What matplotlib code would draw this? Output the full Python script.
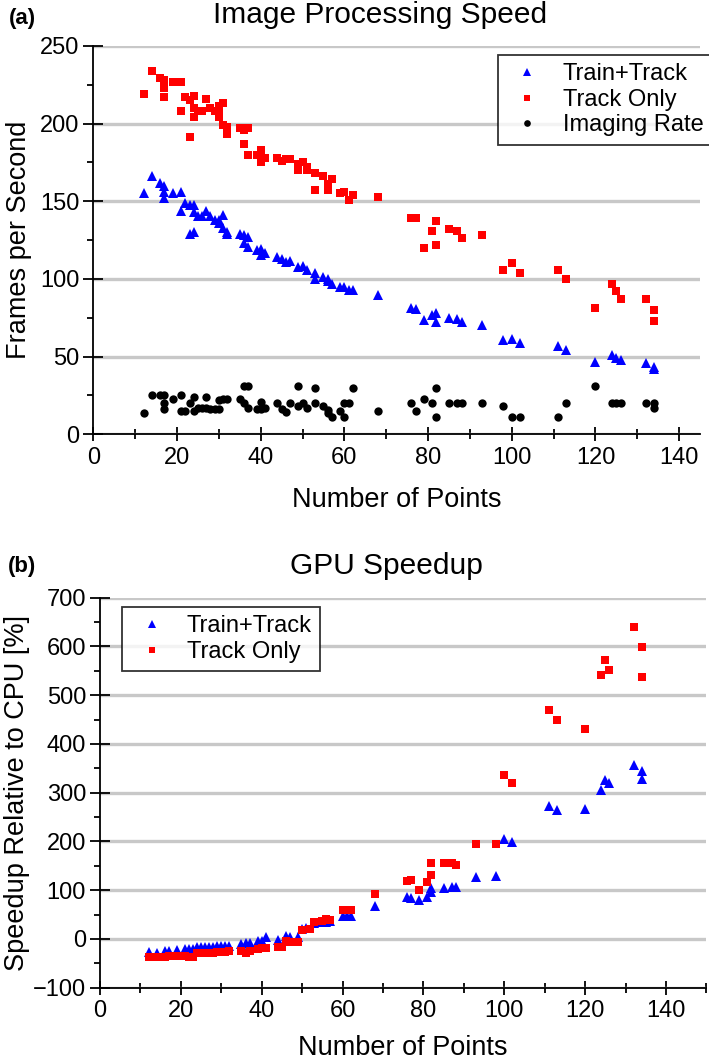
import matplotlib
matplotlib.use("Agg")
import matplotlib.pyplot as plt
from matplotlib.ticker import MultipleLocator

plt.rcParams['font.family'] = ['Liberation Sans', 'DejaVu Sans']

# ---- panel (a): image processing speed (frames per second) ----
track_x = [12, 14, 16, 17, 17, 17, 19, 21, 21, 22, 23, 23, 24, 24, 24, 25, 26, 27, 28, 29,
           30, 30, 30, 31, 31, 32, 32, 35, 36, 36, 37, 37, 39, 40, 40, 41, 44, 45, 46, 47,
           49, 49, 50, 51, 51, 53, 53, 55, 56, 56, 57, 59, 60, 61, 62, 68, 76, 77, 79, 81,
           82, 82, 85, 87, 88, 93, 98, 100, 102, 111, 113, 120, 124, 125, 126, 132, 134, 134]
track_fps = [219, 234, 229, 228, 223, 217, 227, 227, 208, 217, 215, 191, 218, 210, 204, 208, 208, 216, 210, 208,
             211, 206, 204, 213, 199, 198, 193, 197, 196, 187, 197, 180, 180, 183, 175, 178, 178, 176, 177, 177,
             174, 170, 175, 172, 170, 168, 157, 166, 161, 157, 164, 155, 156, 151, 154, 153, 139, 139, 120, 131,
             137, 122, 132, 131, 126, 128, 106, 110, 104, 106, 100, 81, 97, 92, 87, 87, 80, 73]

train_x = [12, 14, 16, 17, 17, 17, 19, 21, 21, 22, 23, 23, 24, 24, 24, 25, 26, 27, 28, 29,
           30, 30, 31, 31, 32, 32, 35, 36, 36, 37, 37, 39, 40, 40, 41, 44, 45, 46, 47, 49,
           50, 51, 53, 53, 55, 56, 56, 57, 59, 60, 61, 62, 68, 76, 77, 79, 81, 82, 82, 85,
           87, 88, 93, 98, 100, 102, 111, 113, 120, 124, 125, 126, 132, 134, 134]
train_fps = [155.5, 166, 162, 160, 156, 152, 155.5, 156, 144, 149, 147.5, 129, 147.5, 143, 130.5, 140.5, 140.5, 144, 140.5, 138,
             136, 138, 141, 132.5, 130, 129, 129, 128.5, 123, 127, 120.5, 118.5, 119, 115.5, 116.5, 114, 112.5, 111, 111.5, 107.5,
             108.5, 106, 104, 100, 101.5, 100, 98.5, 97, 95, 95, 93, 93, 89.5, 81.5, 80.5, 73.5, 76.5, 78, 72, 75,
             74, 72.5, 70.5, 60.5, 61.5, 58.5, 57, 54, 46.5, 51, 49, 47.5, 46, 43.5, 42]

imaging_x = [12, 14, 16, 17, 17, 17, 19, 21, 21, 22, 23, 24, 24, 25, 26, 27, 27, 28, 29, 30,
             30, 31, 32, 35, 36, 37, 36, 37, 39, 40, 40, 41, 44, 45, 46, 47, 49, 49, 50, 51,
             53, 53, 55, 56, 57, 56, 59, 60, 60, 61, 62, 68, 76, 77, 79, 81, 82, 82, 85, 87,
             88, 93, 98, 100, 102, 111, 113, 120, 124, 125, 126, 132, 134, 134]
imaging_fps = [14, 25, 25, 25, 20, 16, 23, 25, 15, 15, 20, 24, 15, 17, 17, 24, 17, 16, 16, 16,
               22, 23, 23, 23, 31, 31, 20, 17, 16, 16, 21, 17, 20, 16, 14.5, 20, 31, 18, 20, 17,
               30, 20, 18, 15.5, 11, 13.5, 15, 11, 20, 20, 30, 15, 20, 15, 23, 20, 30, 11, 20, 20,
               20, 20, 18, 11, 11, 11, 20, 31, 20, 20, 20, 20, 20, 17]

# ---- panel (b): GPU speedup relative to CPU [%] ----
train_sp_x = [12, 14, 16, 17, 19, 21, 22, 23, 24, 25, 26, 27, 28, 29, 30, 31, 32, 35, 36, 37,
              39, 40, 41, 44, 46, 47, 49, 50, 51, 53, 55, 56, 57, 60, 61, 62, 68, 76, 77, 79,
              81, 82, 82, 85, 87, 88, 93, 98, 100, 102, 111, 113, 120, 124, 125, 126, 132, 134, 134]
train_sp = [-27, -29, -24, -24, -22, -21, -21, -20, -17, -17, -16, -16, -16, -15, -15, -15, -14, -10, -9, -9,
            -5, -4, 4, -2, 7, 4, 4, 20, 22, 33, 34, 35, 36, 48, 48, 47, 68, 86, 85, 79,
            87, 96, 105, 105, 106, 106, 127, 130, 205, 198, 272, 265, 267, 306, 327, 320, 356, 344, 328]

track_sp_x = [12, 14, 16, 17, 19, 21, 22, 23, 24, 25, 26, 27, 28, 29, 30, 31, 32, 35, 36, 37,
              39, 40, 41, 44, 45, 46, 47, 49, 50, 52, 53, 55, 56, 57, 60, 61, 62, 68, 76, 77,
              79, 81, 82, 82, 85, 87, 88, 93, 98, 100, 102, 111, 113, 120, 124, 125, 126, 132, 134, 134]
track_sp = [-37, -37, -36, -35, -34, -34, -36, -37, -29, -29, -29, -28, -28, -27, -27, -26, -25, -25, -28, -25,
            -20, -18, -18, -16, -16, -4, -6, -6, 19, 21, 34, 36, 40, 38, 59, 59, 60, 92, 119, 120,
            100, 117, 132, 156, 155, 156, 151, 195, 195, 336, 319, 470, 450, 431, 542, 573, 552, 639, 598, 537]

W, H = 709, 1062
fig = plt.figure(figsize=(W / 100, H / 100), dpi=100)

def style_axes(ax, xmax, ymin, ymax, ymajor, yminor):
    ax.set_xlim(0, xmax)
    ax.set_ylim(ymin, ymax)
    for s in ['top', 'right']:
        ax.spines[s].set_visible(False)
    for s in ['left', 'bottom']:
        ax.spines[s].set_linewidth(1.3)
    ax.xaxis.set_major_locator(MultipleLocator(20))
    ax.xaxis.set_minor_locator(MultipleLocator(10))
    ax.yaxis.set_major_locator(MultipleLocator(ymajor))
    ax.yaxis.set_minor_locator(MultipleLocator(yminor))
    ax.tick_params(axis='x', which='major', direction='inout', length=10, width=1.3, labelsize=17, pad=4)
    ax.tick_params(axis='x', which='minor', direction='inout', length=7, width=1.3)
    ax.tick_params(axis='y', which='major', direction='inout', length=14, width=1.3, labelsize=17, pad=3)
    ax.tick_params(axis='y', which='minor', direction='out', length=4, width=1.3)
    ax.yaxis.grid(True, which='major', color='#c8c8c8', linewidth=2.4)
    ax.set_axisbelow(True)

mk = dict(linestyle='none', markeredgewidth=0)

# ---- (a) ----
ax1 = fig.add_axes([93.3 / W, 1 - 434.3 / H, 606.8 / W, 388.5 / H])
style_axes(ax1, 145, 0, 250, 50, 25)
ax1.plot(train_x, train_fps, marker='^', ms=7.5, color='#0000ff', label='Train+Track', **mk)
ax1.plot(track_x, track_fps, marker='s', ms=6, color='#ff0000', label='Track Only', **mk)
ax1.plot(imaging_x, imaging_fps, marker='o', ms=6, color='black', label='Imaging Rate', **mk)
ax1.set_xlabel('Number of Points', fontsize=19.5, labelpad=13)
ax1.set_ylabel('Frames per Second', fontsize=19.5, labelpad=6)
leg1 = ax1.legend(loc='upper left', bbox_to_anchor=(497.7 / W, 1 - 55 / H), bbox_transform=fig.transFigure,
                  fontsize=17, frameon=True, fancybox=False, borderpad=0.35, labelspacing=0.15,
                  handlelength=1.8, handletextpad=0.6, borderaxespad=0, markerscale=0.8)
leg1.get_frame().set_edgecolor('black')
leg1.get_frame().set_linewidth(1.3)

fig.text(380 / W, 1 - 23 / H, 'Image Processing Speed', fontsize=21.5, ha='center', va='baseline')
fig.text(9 / W, 1 - 24 / H, '(a)', fontsize=16, fontweight='bold', ha='left', va='baseline')

# ---- (b) ----
ax2 = fig.add_axes([100 / W, 1 - 987.7 / H, 606.4 / W, 390 / H])
style_axes(ax2, 150, -100, 700, 100, 50)
ax2.plot(train_sp_x, train_sp, marker='^', ms=7.5, color='#0000ff', label='Train+Track', **mk)
ax2.plot(track_sp_x, track_sp, marker='s', ms=6, color='#ff0000', label='Track Only', **mk)
ax2.set_xlabel('Number of Points', fontsize=19.5, labelpad=9)
ax2.set_ylabel('Speedup Relative to CPU [%]', fontsize=19.5, labelpad=2)
leg2 = ax2.legend(loc='upper left', bbox_to_anchor=(122 / W, 1 - 607 / H), bbox_transform=fig.transFigure,
                  fontsize=17, frameon=True, fancybox=False, borderpad=0.35, labelspacing=0.15,
                  handlelength=1.8, handletextpad=0.6, borderaxespad=0, markerscale=0.8)
leg2.get_frame().set_edgecolor('black')
leg2.get_frame().set_linewidth(1.3)

fig.text(386 / W, 1 - 574 / H, 'GPU Speedup', fontsize=21.5, ha='center', va='baseline')
fig.text(8 / W, 1 - 572 / H, '(b)', fontsize=16, fontweight='bold', ha='left', va='baseline')

fig.savefig('out.png', dpi=100)
